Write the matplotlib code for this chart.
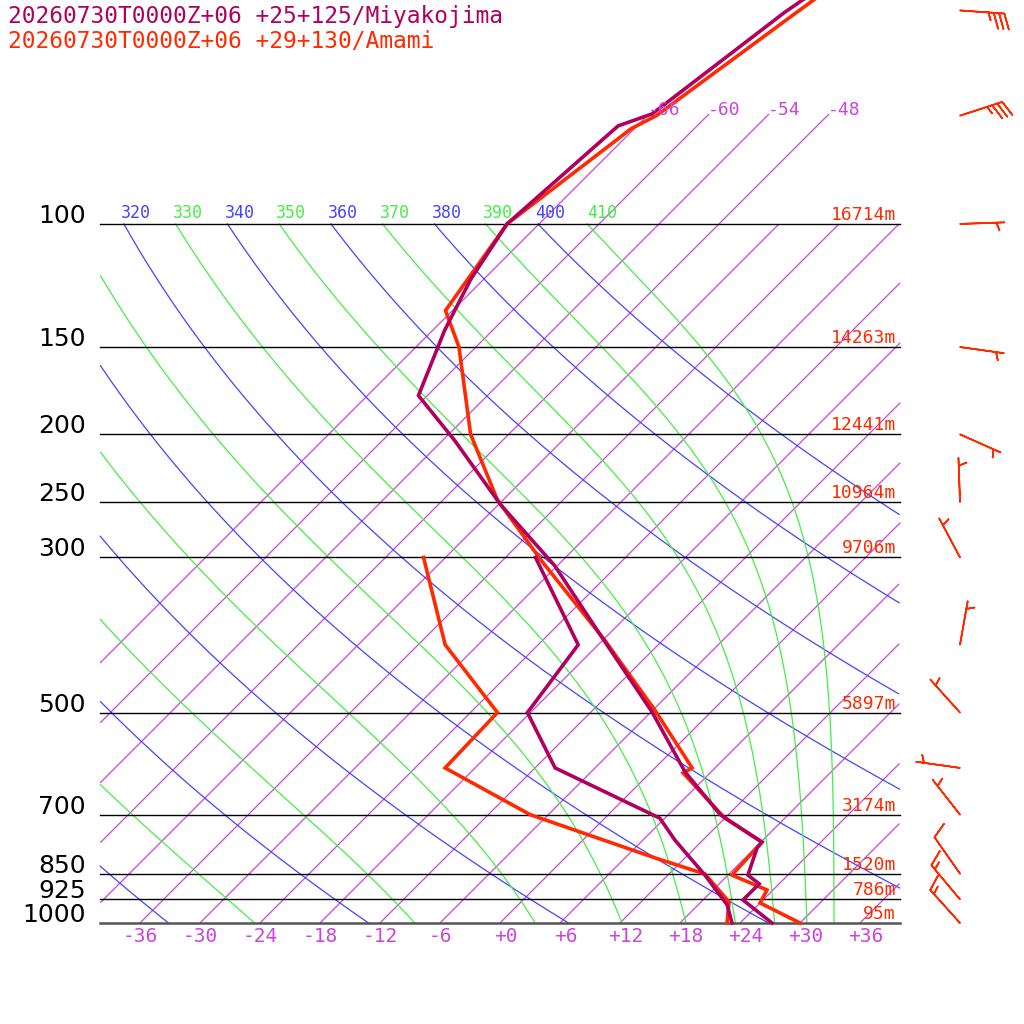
import numpy as np
import matplotlib
matplotlib.use("Agg")
import matplotlib.pyplot as plt
from matplotlib.transforms import Bbox, TransformedBbox

# ---- sounding data (hPa, degC) ----
miya_p = [1000, 927, 879, 854, 781, 766, 700, 608, 499, 387, 308, 252, 204, 176, 142, 120, 100, 72.4, 69.6, 49.8, 46]
miya_t = [27.2, 22.0, 22.0, 20.0, 18.2, 18.1, 11.2, 3.4, -5.9, -18.8, -30.3, -41.8, -52.8, -60.9, -64.8, -67.3, -69.2, -67.9, -65.7, -62.6, -61.5]
miya_td_p = [1000, 942, 854, 761, 708, 600, 500, 400, 300]
miya_td = [23.2, 20.9, 15.7, 9.2, 5.5, -10.0, -18.3, -20.0, -33.0]

ama_p = [1000, 936, 897, 854, 766, 708, 610, 600, 496, 394, 302, 248, 200, 150, 133, 100, 73, 70, 49.8, 46]
ama_t = [30.0, 24.0, 23.4, 18.4, 18.1, 12.0, 3.3, 3.7, -5.8, -17.8, -32.3, -42.6, -51.8, -61.7, -66.7, -69.2, -66.3, -65.1, -61.4, -60.5]
ama_td_p = [1000, 933, 851, 807, 700, 600, 500, 400, 300]
ama_td = [22.7, 20.8, 15.6, 9.0, -7.8, -21.0, -21.3, -33.3, -44.2]

# wind barbs (Amami): pressure, screen angle the staff points to (deg), speed kt
wind_p = [49.5, 70, 100, 150, 200, 250, 300, 400, 500, 600, 700, 850, 925, 1000]
wind_ang = [-4, 18, 2, -8, -24, 92, 118, 80, 132, 172, 128, 125, 130, 132]
wind_spd = [35, 35, 5, 5, 5, 5, 5, 5, 5, 5, 5, 10, 15, 15]

levels = [100, 150, 200, 250, 300, 500, 700, 850, 925, 1000]
heights = ["16714m", "14263m", "12441m", "10964m", "9706m", "5897m", "3174m", "1520m", "786m", "95m"]
iso_labels_top = [-66, -60, -54, -48]
t_ticks = list(range(-36, 37, 6))
thetas = list(range(220, 411, 10))
theta_labelled = list(range(310, 411, 10))

PURPLE = "#b0005e"
RED = "#ff2a00"
MAG = "#cc44dd"
BLUE = "#4444ff"
GREEN = "#44ee44"

K = 303.6
Y0 = 923


def xy(p, t):
    p = np.asarray(p, float)
    t = np.asarray(t, float)
    d = K * np.log(1000.0 / p)
    return 500 + 10 * t + d, 1024 - (Y0 - d)


def clip(x, y, ytop=1024 - 224):
    m = (x < 100) | (x > 900) | (y > ytop + 0.5) | (y < 1024 - 923)
    x = x.copy(); y = y.copy()
    x[m] = np.nan
    return x, y


fig = plt.figure(figsize=(10.24, 10.24), dpi=100)
ax = fig.add_axes([0, 0, 1, 1])
ax.set_xlim(0, 1024)
ax.set_ylim(0, 1024)
ax.axis("off")

mono = "DejaVu Sans Mono"
box = TransformedBbox(Bbox([[100, 0], [900, 1024]]), ax.transData)

# isotherms
pp = np.exp(np.linspace(np.log(40), np.log(1000), 800))
for t in range(-66, 37, 6):
    x, y = xy(pp, np.full_like(pp, t))
    top = 1024 - 115 if t in iso_labels_top else 1024 - 224
    x, y = clip(x, y, top)
    ax.plot(x, y, color=MAG, lw=0.9)
for t in iso_labels_top:
    x, y = xy(1000 * np.exp(-(Y0 - 115) / K), t)
    ax.text(x, y + 5, "%d" % t, color=MAG, fontsize=13, family=mono, ha="left", va="center")

# dry (blue) and moist (green) adiabats
pp = np.exp(np.linspace(np.log(100), np.log(1000), 800))
for th in thetas:
    if th % 20 == 0:
        tk = th * (pp / 1000.0) ** 0.286
        col = BLUE
    else:
        lo = np.full_like(pp, 150.0); hi = np.full_like(pp, 330.0)
        for _ in range(60):
            mid = (lo + hi) / 2
            es = 6.112 * np.exp(17.67 * (mid - 273.15) / (mid - 29.65))
            rs = 0.622 * es / (pp - es)
            the = mid * (1000.0 / pp) ** 0.286 * np.exp(2.65e6 * rs / (1004 * mid))
            big = the > th
            hi = np.where(big, mid, hi)
            lo = np.where(big, lo, mid)
        tk = lo
        col = GREEN
    x, y = xy(pp, tk - 273.15)
    x, y = clip(x, y)
    ax.plot(x, y, color=col, lw=0.9)
    if th in theta_labelled:
        x0, y0 = xy(100, th * 0.1 ** 0.286 - 273.15)
        tx = ax.text(x0 - 3, y0 + 11, str(th), color=col, fontsize=12, family=mono,
                     ha="left", va="center", clip_on=True)
        tx.set_clip_box(box)

# pressure levels
for p, h in zip(levels, heights):
    _, y = xy(p, 0)
    ax.plot([100, 900], [y, y], color="#555555" if p == 1000 else "black", lw=1.8 if p == 1000 else 1.0)
    ax.text(86, y + 8, str(p), fontsize=18, ha="right", va="center")
    ax.text(896, y + 9, h, color=RED, fontsize=13, family=mono, ha="right", va="center")

for t in t_ticks:
    x, y = xy(1000, t)
    s = ("+%d" % t) if t >= 0 else "%d" % t
    ax.text(x + (6 if t >= 0 else 0), y - 14, s, color=MAG, fontsize=14, family=mono, ha="center", va="center")

# soundings
for p, t, c in [(ama_td_p, ama_td, RED), (ama_p, ama_t, RED),
                (miya_td_p, miya_td, PURPLE), (miya_p, miya_t, PURPLE)]:
    x, y = xy(p, t)
    ax.plot(x, y, color=c, lw=2.6, solid_joinstyle="miter")

# wind barbs
_, wy = xy(wind_p, 0)
a = np.radians(wind_ang)
sp = np.array(wind_spd, float)
ax.barbs(np.full(len(wind_p), 960.0), wy, -sp * np.cos(a), -sp * np.sin(a),
         color=RED, length=8, linewidth=1.2, sizes=dict(height=0.35, spacing=0.12))

ax.text(8, 1007, "20260730T0000Z+06 +25+125/Miyakojima", color=PURPLE, fontsize=16.5, family=mono, va="center")
ax.text(8, 983, "20260730T0000Z+06 +29+130/Amami", color=RED, fontsize=16.5, family=mono, va="center")

fig.savefig("out.png", dpi=100)
